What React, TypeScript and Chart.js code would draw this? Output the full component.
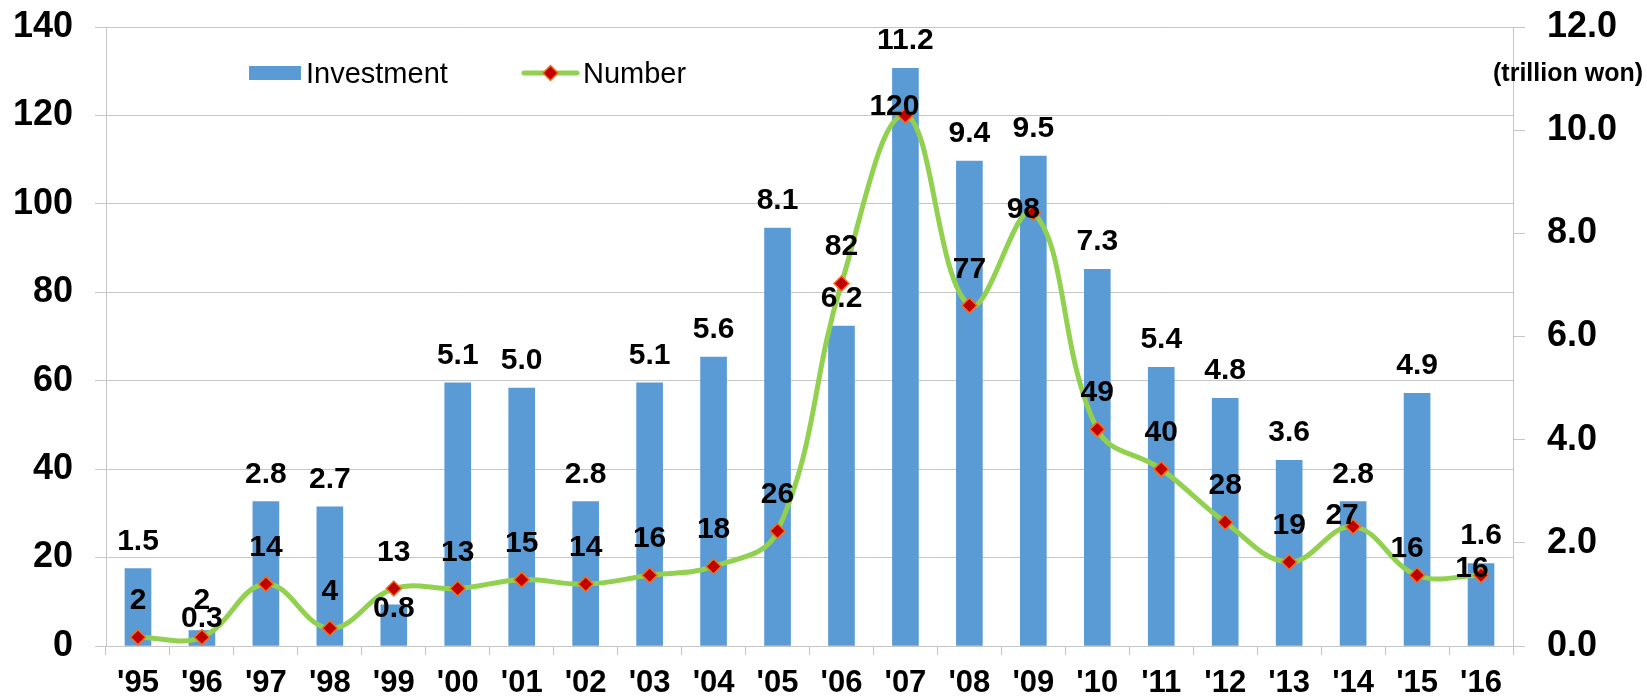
import React, { useEffect, useRef } from 'react';
import { Chart, registerables } from 'chart.js';

Chart.register(...registerables);

// ---------- data ----------
const years = ["'95", "'96", "'97", "'98", "'99", "'00", "'01", "'02", "'03", "'04", "'05", "'06", "'07", "'08", "'09", "'10", "'11", "'12", "'13", "'14", "'15", "'16"];
const investment = [1.5, 0.3, 2.8, 2.7, 0.8, 5.1, 5.0, 2.8, 5.1, 5.6, 8.1, 6.2, 11.2, 9.4, 9.5, 7.3, 5.4, 4.8, 3.6, 2.8, 4.9, 1.6];
const numberOfCases = [2, 2, 14, 4, 13, 13, 15, 14, 16, 18, 26, 82, 120, 77, 98, 49, 40, 28, 19, 27, 16, 16];
const seriesNames = ['Investment', 'Number'];
const rightAxisUnit = '(trillion won)';
const leftAxisRange = [0, 140, 20];
const rightAxisRange = [0, 12, 2];

// ---------- styling ----------
const FONT = "'Liberation Sans', Arial, Helvetica, sans-serif";
const BAR_COLOR = '#5b9bd5';
const LINE_COLOR = '#92d050';
const MARKER_FILL = '#c00000';
const MARKER_EDGE = '#f07020';
const GRID = '#c6c6c6';
const W = 1647;
const H = 697;

// label nudges [dx, baseline offset from mark]
const DEFAULT_BAR_LABEL: [number, number] = [0, -19];
const DEFAULT_LINE_LABEL: [number, number] = [0, -28];
const barLabelNudge: Record<number, [number, number]> = {
  1: [0, -4],
  4: [0, 12],
};
const lineLabelNudge: Record<number, [number, number]> = {
  12: [-11, 0],
  14: [-10, 5],
  19: [-11, -3],
  20: [-10, -18],
  21: [-9, 2],
};

const valueLabels = {
  id: 'valueLabels',
  afterDatasetsDraw(chart: any) {
    const ctx = chart.ctx;
    ctx.save();
    ctx.font = `bold 30px ${FONT}`;
    ctx.fillStyle = '#000';
    ctx.textAlign = 'center';
    ctx.textBaseline = 'alphabetic';
    const lineMeta = chart.getDatasetMeta(0);
    lineMeta.data.forEach((pt: any, i: number) => {
      const [dx, dy] = lineLabelNudge[i] ?? DEFAULT_LINE_LABEL;
      ctx.fillText(String(numberOfCases[i]), pt.x + dx, pt.y + dy);
    });
    const barMeta = chart.getDatasetMeta(1);
    barMeta.data.forEach((bar: any, i: number) => {
      const [dx, dy] = barLabelNudge[i] ?? DEFAULT_BAR_LABEL;
      ctx.fillText(investment[i].toFixed(1), bar.x + dx, bar.y + dy);
    });
    ctx.restore();
  },
};

const customLegend = {
  id: 'customLegend',
  afterDraw(chart: any) {
    const ctx = chart.ctx;
    ctx.save();
    // Investment
    ctx.fillStyle = BAR_COLOR;
    ctx.fillRect(249, 66, 52, 14);
    ctx.fillStyle = '#000';
    ctx.font = `29px ${FONT}`;
    ctx.textAlign = 'left';
    ctx.textBaseline = 'alphabetic';
    ctx.fillText(seriesNames[0], 306, 83);
    // Number
    ctx.strokeStyle = LINE_COLOR;
    ctx.lineWidth = 5;
    ctx.lineCap = 'round';
    ctx.beginPath();
    ctx.moveTo(524, 73);
    ctx.lineTo(577, 73);
    ctx.stroke();
    const cx = 550.5, cy = 73, r = 7.5;
    ctx.beginPath();
    ctx.moveTo(cx, cy - r);
    ctx.lineTo(cx + r, cy);
    ctx.lineTo(cx, cy + r);
    ctx.lineTo(cx - r, cy);
    ctx.closePath();
    ctx.fillStyle = MARKER_FILL;
    ctx.fill();
    ctx.strokeStyle = MARKER_EDGE;
    ctx.lineWidth = 1.5;
    ctx.stroke();
    ctx.fillStyle = '#000';
    ctx.fillText(seriesNames[1], 583, 83);
    // unit
    ctx.font = `bold 25px ${FONT}`;
    ctx.textAlign = 'right';
    ctx.fillText(rightAxisUnit, 1643, 81);
    ctx.restore();
  },
};

const noOverflow = (s: any) => {
  s.paddingTop = 0;
  s.paddingBottom = 0;
  s.paddingLeft = 0;
  s.paddingRight = 0;
};

export default function App() {
  const ref = useRef<HTMLCanvasElement>(null);

  useEffect(() => {
    document.body.style.margin = '0';
    document.body.style.overflow = 'hidden';
    const canvas = ref.current;
    if (!canvas) return;
    const chart = new Chart(canvas, {
      type: 'bar',
      data: {
        labels: years,
        datasets: [
          {
            type: 'line',
            label: seriesNames[1],
            data: numberOfCases,
            yAxisID: 'y',
            order: 0,
            borderColor: LINE_COLOR,
            borderWidth: 5,
            tension: 0.4,
            pointStyle: 'rectRot',
            pointRadius: 7.5,
            pointBackgroundColor: MARKER_FILL,
            pointBorderColor: MARKER_EDGE,
            pointBorderWidth: 1.5,
            fill: false,
          } as any,
          {
            type: 'bar',
            label: seriesNames[0],
            data: investment,
            yAxisID: 'y1',
            order: 1,
            backgroundColor: BAR_COLOR,
            barThickness: 26,
          } as any,
        ],
      },
      options: {
        responsive: false,
        animation: false,
        devicePixelRatio: 1,
        layout: { padding: { top: 27, left: 0, right: 0, bottom: 0 } },
        plugins: {
          legend: { display: false },
          tooltip: { enabled: false },
        },
        scales: {
          x: {
            offset: true,
            grid: {
              offset: true,
              drawOnChartArea: false,
              drawTicks: true,
              tickLength: 9,
              color: GRID,
            },
            border: { color: GRID, width: 1 },
            ticks: {
              color: '#000',
              font: { family: FONT, size: 31, weight: 'bold' },
              padding: 10,
              maxRotation: 0,
              autoSkip: false,
            },
            afterFit: (s: any) => {
              s.height = 51;
              noOverflow(s);
            },
          },
          y: {
            position: 'left',
            min: leftAxisRange[0],
            max: leftAxisRange[1],
            grid: { color: GRID, tickLength: 11, drawTicks: true },
            border: { color: GRID, width: 1 },
            ticks: {
              stepSize: leftAxisRange[2],
              color: '#000',
              padding: 22,
              font: { family: FONT, size: 36, weight: 'bold' },
            },
            afterFit: (s: any) => {
              s.width = 106;
              noOverflow(s);
            },
          },
          y1: {
            position: 'right',
            min: rightAxisRange[0],
            max: rightAxisRange[1],
            grid: { drawOnChartArea: false, color: GRID, tickLength: 12, drawTicks: true },
            border: { color: GRID, width: 1 },
            ticks: {
              stepSize: rightAxisRange[2],
              color: '#000',
              padding: 22,
              font: { family: FONT, size: 36, weight: 'bold' },
              callback: (v: any) => Number(v).toFixed(1),
            },
            afterFit: (s: any) => {
              s.width = 134;
              noOverflow(s);
            },
          },
        },
      } as any,
      plugins: [valueLabels, customLegend],
    });
    return () => chart.destroy();
  }, []);

  return (
    <div style={{ width: W, height: H }}>
      <canvas ref={ref} width={W} height={H} style={{ display: 'block', width: W, height: H }} />
    </div>
  );
}
